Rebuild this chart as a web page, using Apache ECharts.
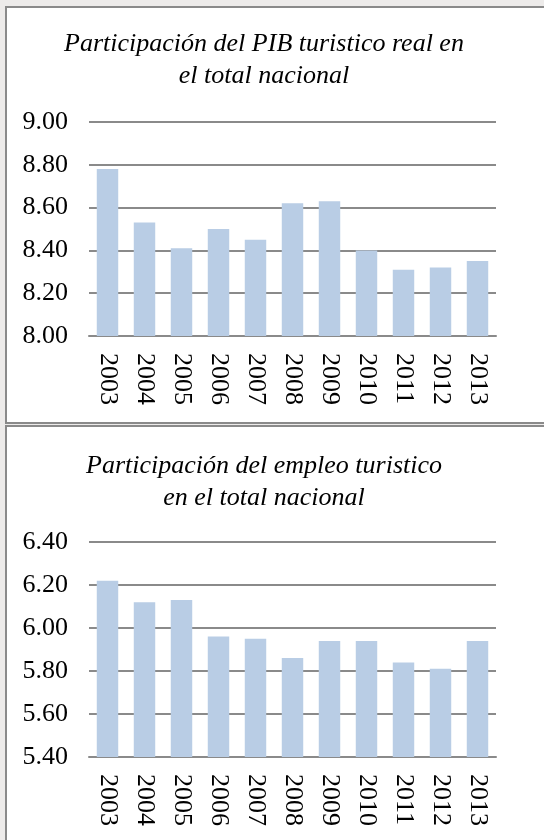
<!DOCTYPE html>
<html>
<head>
<meta charset="utf-8">
<script src="https://cdn.jsdelivr.net/npm/echarts@6/dist/echarts.min.js"></script>
<style>
  html, body { margin: 0; padding: 0; background: #edebea; overflow: hidden; }
  .box { position: absolute; left: 5px; width: 580px; background: #fff; border: 2px solid #8a8a8a; }
  #box1 { top: 6px; height: 414px; }
  #box2 { top: 425px; height: 440px; border-bottom: none; }
  .chart { position: absolute; left: 0; top: 0; width: 537px; }
</style>
</head>
<body>
<div class="box" id="box1"><div class="chart" id="pib" style="height: 414px"></div></div>
<div class="box" id="box2"><div class="chart" id="empleo" style="height: 413px"></div></div>
<script>
// años
var years = ["2003", "2004", "2005", "2006", "2007", "2008", "2009", "2010", "2011", "2012", "2013"];
// participación del PIB turistico real (%)
var pibValues = [8.78, 8.53, 8.41, 8.50, 8.45, 8.62, 8.63, 8.40, 8.31, 8.32, 8.35];
// participación del empleo turistico (%)
var empleoValues = [6.22, 6.12, 6.13, 5.96, 5.95, 5.86, 5.94, 5.94, 5.84, 5.81, 5.94];

var pibTitle = "Participación del PIB turistico real en\nel total nacional";
var empleoTitle = "Participación del empleo turistico\nen el total nacional";

var serif = "Liberation Serif";

function drawChart(id, title, data, yMin, yMax, titleY, gridTop, gridBottom) {
  var myChart = echarts.init(document.getElementById(id));
  myChart.setOption({
    animation: false,
    graphic: [
      {
        type: "text",
        x: 257,
        y: titleY,
        style: {
          text: title,
          font: "italic 26px " + serif,
          fill: "#000",
          textAlign: "center",
          textVerticalAlign: "top",
          lineHeight: 32,
        },
      },
    ],
    grid: {
      left: 82,
      right: 48,
      top: gridTop,
      bottom: gridBottom,
    },
    xAxis: {
      type: "category",
      data: years,
      axisLine: { show: true, lineStyle: { color: "#8a8a8a", width: 2 } },
      axisTick: { show: false },
      axisLabel: {
        rotate: -90,
        margin: 17,
        color: "#000",
        fontFamily: serif,
        fontSize: 26,
        interval: 0,
      },
    },
    yAxis: {
      type: "value",
      min: yMin,
      max: yMax,
      interval: 0.2,
      axisLine: { show: false },
      axisTick: { show: false },
      splitLine: { lineStyle: { color: "#8a8a8a", width: 2 } },
      axisLabel: {
        margin: 21,
        color: "#000",
        fontFamily: serif,
        fontSize: 26,
        formatter: function (v) {
          return v.toFixed(2);
        },
      },
    },
    series: [
      {
        type: "bar",
        data: data,
        barWidth: "58%",
        itemStyle: { color: "#b9cde5" },
      },
    ],
  });
}

drawChart("pib", pibTitle, pibValues, 8, 9, 20, 114, 86);
drawChart("empleo", empleoTitle, empleoValues, 5.4, 6.4, 23, 115, 83);
</script>
</body>
</html>
